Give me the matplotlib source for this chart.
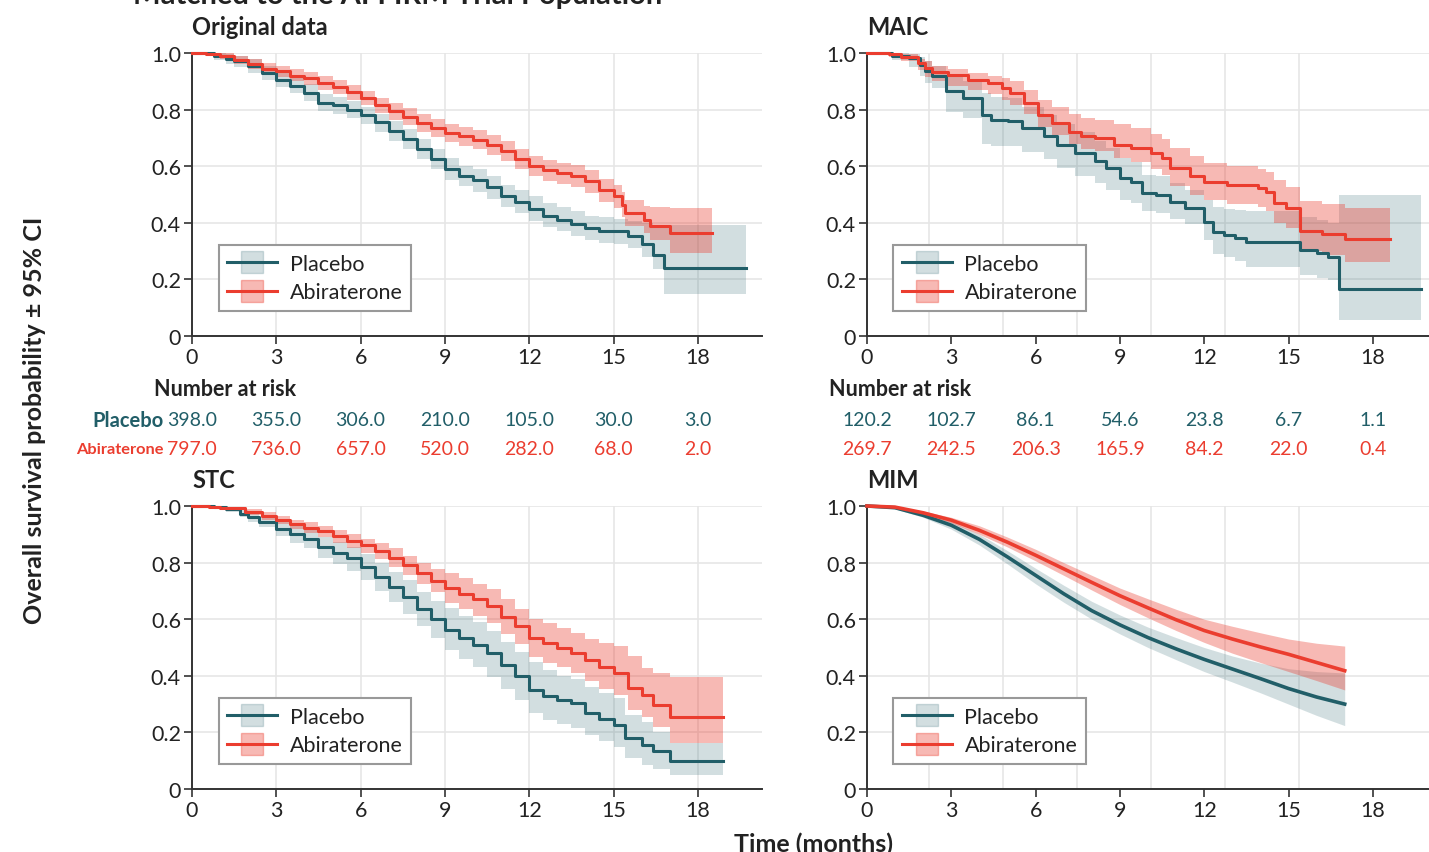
import matplotlib
matplotlib.use("Agg")
import matplotlib.pyplot as plt
import matplotlib.transforms as mtransforms
from matplotlib.lines import Line2D

plt.rcParams['font.family'] = ['Lato', 'DejaVu Sans']

# ---- data ----
# Original data
orig_t_pbo = [0, 0.8, 1.2, 1.5, 2.0, 2.5, 3.0, 3.5, 4.0, 4.5, 5.0, 5.5, 6.0, 6.5, 7.0, 7.5, 8.0, 8.5, 9.0, 9.5,
              10.0, 10.5, 11.0, 11.5, 12.0, 12.5, 13.0, 13.5, 14.0, 14.5, 15.0, 15.5, 16.0, 16.4, 16.8, 19.7]
orig_s_pbo = [1.0, 0.99, 0.98, 0.97, 0.955, 0.93, 0.905, 0.885, 0.86, 0.825, 0.815, 0.80, 0.78, 0.755, 0.725, 0.695,
              0.66, 0.625, 0.59, 0.565, 0.55, 0.525, 0.495, 0.475, 0.45, 0.425, 0.41, 0.395, 0.38, 0.372, 0.37,
              0.352, 0.325, 0.287, 0.24, 0.24]
orig_lo_pbo = [1.0, 0.975, 0.96, 0.95, 0.93, 0.905, 0.88, 0.86, 0.83, 0.795, 0.785, 0.77, 0.75, 0.72, 0.69, 0.66,
               0.625, 0.59, 0.55, 0.53, 0.51, 0.485, 0.455, 0.435, 0.405, 0.385, 0.37, 0.355, 0.34, 0.33, 0.325,
               0.31, 0.28, 0.235, 0.15, 0.15]
orig_hi_pbo = [1.0, 1.0, 0.995, 0.99, 0.978, 0.955, 0.93, 0.91, 0.89, 0.855, 0.845, 0.83, 0.81, 0.785, 0.76, 0.73,
               0.695, 0.66, 0.63, 0.60, 0.59, 0.565, 0.535, 0.515, 0.495, 0.47, 0.455, 0.44, 0.425, 0.42, 0.415,
               0.405, 0.40, 0.39, 0.393, 0.393]
orig_t_abi = [0, 0.5, 1.0, 1.5, 2.0, 2.5, 3.0, 3.5, 4.0, 4.5, 5.0, 5.5, 6.0, 6.5, 7.0, 7.5, 8.0, 8.5, 9.0, 9.5,
              10.0, 10.5, 11.0, 11.5, 12.0, 12.5, 13.0, 13.5, 14.0, 14.5, 15.0, 15.3, 15.4, 16.1, 16.3, 17.0, 18.5]
orig_s_abi = [1.0, 0.998, 0.99, 0.975, 0.96, 0.945, 0.935, 0.92, 0.91, 0.895, 0.88, 0.862, 0.84, 0.815, 0.795,
              0.775, 0.752, 0.735, 0.716, 0.705, 0.693, 0.675, 0.652, 0.625, 0.60, 0.585, 0.575, 0.565, 0.546,
              0.515, 0.493, 0.464, 0.434, 0.41, 0.387, 0.364, 0.364]
orig_lo_abi = [1.0, 0.995, 0.98, 0.962, 0.945, 0.928, 0.915, 0.90, 0.888, 0.87, 0.855, 0.835, 0.815, 0.788, 0.765,
               0.745, 0.72, 0.702, 0.685, 0.672, 0.66, 0.64, 0.617, 0.59, 0.565, 0.548, 0.537, 0.525, 0.505,
               0.475, 0.452, 0.42, 0.39, 0.365, 0.34, 0.293, 0.293]
orig_hi_abi = [1.0, 1.0, 1.0, 0.99, 0.978, 0.963, 0.955, 0.942, 0.932, 0.92, 0.905, 0.888, 0.865, 0.842, 0.825,
               0.805, 0.785, 0.766, 0.748, 0.738, 0.727, 0.71, 0.69, 0.662, 0.635, 0.622, 0.612, 0.605, 0.588,
               0.555, 0.535, 0.51, 0.48, 0.46, 0.455, 0.452, 0.452]

# MAIC
maic_t_pbo = [0, 0.9, 1.5, 1.9, 2.05, 2.3, 2.8, 3.4, 4.1, 4.4, 5.0, 5.5, 6.3, 6.75, 7.4, 8.1, 8.5, 9.0, 9.4, 9.8,
              10.3, 10.8, 11.3, 12.0, 12.3, 12.7, 13.1, 13.5, 15.4, 16.0, 16.4, 16.8, 19.7]
maic_s_pbo = [1.0, 0.99, 0.982, 0.958, 0.935, 0.92, 0.865, 0.84, 0.78, 0.764, 0.758, 0.734, 0.705, 0.675, 0.646,
              0.617, 0.593, 0.557, 0.545, 0.504, 0.50, 0.475, 0.454, 0.404, 0.369, 0.357, 0.345, 0.331, 0.304,
              0.292, 0.28, 0.166, 0.166]
maic_lo_pbo = [1.0, 0.975, 0.95, 0.92, 0.895, 0.875, 0.79, 0.77, 0.68, 0.672, 0.67, 0.65, 0.625, 0.595, 0.565,
               0.54, 0.515, 0.48, 0.47, 0.44, 0.435, 0.415, 0.395, 0.34, 0.29, 0.28, 0.265, 0.245, 0.215, 0.205,
               0.198, 0.055, 0.055]
maic_hi_pbo = [1.0, 1.0, 0.998, 0.985, 0.97, 0.955, 0.925, 0.9, 0.86, 0.845, 0.84, 0.81, 0.78, 0.75, 0.72, 0.69,
               0.665, 0.63, 0.615, 0.57, 0.565, 0.54, 0.515, 0.48, 0.455, 0.45, 0.445, 0.44, 0.42, 0.41, 0.40,
               0.50, 0.50]
maic_t_abi = [0, 0.8, 1.2, 1.8, 2.05, 2.3, 2.9, 3.6, 4.3, 4.8, 5.1, 5.6, 6.1, 6.6, 7.2, 7.6, 8.1, 8.8, 9.4, 10.1,
              10.5, 10.8, 11.5, 12.0, 12.8, 13.9, 14.2, 14.5, 14.9, 15.4, 16.2, 17.0, 18.6]
maic_s_abi = [1.0, 0.995, 0.985, 0.963, 0.946, 0.934, 0.922, 0.905, 0.893, 0.875, 0.858, 0.822, 0.78, 0.752,
              0.722, 0.705, 0.699, 0.675, 0.663, 0.646, 0.628, 0.593, 0.564, 0.545, 0.534, 0.524, 0.51, 0.469,
              0.451, 0.372, 0.36, 0.344, 0.344]
maic_lo_abi = [1.0, 0.985, 0.97, 0.94, 0.915, 0.9, 0.885, 0.87, 0.855, 0.835, 0.815, 0.785, 0.74, 0.71, 0.68,
               0.66, 0.655, 0.63, 0.615, 0.59, 0.57, 0.53, 0.5, 0.48, 0.465, 0.455, 0.44, 0.4, 0.38, 0.3, 0.285,
               0.26, 0.26]
maic_hi_abi = [1.0, 1.0, 0.998, 0.98, 0.97, 0.955, 0.945, 0.93, 0.92, 0.91, 0.9, 0.87, 0.835, 0.81, 0.785, 0.77,
               0.765, 0.75, 0.735, 0.715, 0.695, 0.665, 0.635, 0.61, 0.6, 0.59, 0.58, 0.55, 0.525, 0.476, 0.465,
               0.453, 0.453]

# STC
stc_t_pbo = [0, 0.8, 1.2, 1.7, 2.0, 2.4, 3.0, 3.5, 4.0, 4.5, 5.0, 5.5, 6.0, 6.5, 7.0, 7.5, 8.0, 8.5, 9.0, 9.5,
             10.0, 10.5, 11.0, 11.5, 12.0, 12.5, 13.0, 13.5, 14.0, 14.5, 15.0, 15.4, 16.0, 16.4, 17.0, 18.9]
stc_s_pbo = [1.0, 0.995, 0.99, 0.973, 0.96, 0.944, 0.92, 0.9, 0.885, 0.855, 0.835, 0.815, 0.785, 0.75, 0.715,
             0.68, 0.635, 0.6, 0.562, 0.535, 0.51, 0.48, 0.438, 0.4, 0.35, 0.33, 0.315, 0.303, 0.27, 0.248,
             0.227, 0.18, 0.156, 0.133, 0.10, 0.10]
stc_lo_pbo = [1.0, 0.99, 0.98, 0.96, 0.945, 0.925, 0.895, 0.87, 0.85, 0.818, 0.795, 0.77, 0.738, 0.7, 0.66, 0.62,
              0.575, 0.535, 0.49, 0.46, 0.43, 0.395, 0.355, 0.315, 0.268, 0.245, 0.23, 0.215, 0.19, 0.17, 0.15,
              0.11, 0.085, 0.07, 0.048, 0.048]
stc_hi_pbo = [1.0, 1.0, 0.998, 0.985, 0.975, 0.962, 0.945, 0.928, 0.917, 0.89, 0.873, 0.856, 0.83, 0.8, 0.768,
              0.738, 0.695, 0.665, 0.638, 0.612, 0.59, 0.56, 0.52, 0.485, 0.45, 0.42, 0.4, 0.39, 0.36, 0.34, 0.32,
              0.26, 0.235, 0.2, 0.162, 0.162]
stc_t_abi = [0, 0.6, 1.0, 1.9, 2.5, 3.0, 3.5, 4.0, 4.5, 5.0, 5.5, 6.0, 6.5, 7.0, 7.5, 8.0, 8.5, 9.0, 9.5, 10.0,
             10.5, 11.0, 11.5, 12.0, 12.5, 13.0, 13.5, 14.0, 14.5, 15.0, 15.5, 16.0, 16.4, 17.0, 18.9]
stc_s_abi = [1.0, 0.998, 0.993, 0.979, 0.965, 0.95, 0.935, 0.924, 0.91, 0.893, 0.877, 0.861, 0.842, 0.818, 0.79,
             0.763, 0.735, 0.709, 0.69, 0.67, 0.648, 0.609, 0.575, 0.532, 0.515, 0.5, 0.482, 0.455, 0.43, 0.409,
             0.356, 0.333, 0.297, 0.253, 0.253]
stc_lo_abi = [1.0, 0.995, 0.988, 0.968, 0.952, 0.935, 0.918, 0.905, 0.89, 0.87, 0.853, 0.835, 0.812, 0.786, 0.755,
              0.725, 0.695, 0.656, 0.635, 0.612, 0.588, 0.548, 0.512, 0.465, 0.445, 0.43, 0.41, 0.38, 0.355,
              0.333, 0.28, 0.256, 0.22, 0.162, 0.162]
stc_hi_abi = [1.0, 1.0, 0.998, 0.99, 0.978, 0.965, 0.952, 0.942, 0.93, 0.915, 0.9, 0.885, 0.87, 0.85, 0.825, 0.8,
              0.778, 0.765, 0.745, 0.726, 0.705, 0.67, 0.635, 0.6, 0.585, 0.57, 0.55, 0.53, 0.515, 0.505, 0.47,
              0.427, 0.41, 0.394, 0.394]

# MIM (smooth curves)
mim_t = [0, 1, 2, 3, 4, 5, 6, 7, 8, 9, 10, 11, 12, 13, 14, 15, 16, 17]
mim_s_pbo = [1.0, 0.994, 0.967, 0.932, 0.882, 0.82, 0.755, 0.69, 0.63, 0.58, 0.535, 0.495, 0.458, 0.424, 0.39,
             0.355, 0.325, 0.30]
mim_lo_pbo = [1.0, 0.99, 0.96, 0.918, 0.862, 0.795, 0.725, 0.66, 0.6, 0.548, 0.5, 0.457, 0.415, 0.378, 0.34, 0.3,
              0.26, 0.224]
mim_hi_pbo = [1.0, 0.997, 0.975, 0.945, 0.9, 0.842, 0.78, 0.72, 0.663, 0.615, 0.572, 0.535, 0.5, 0.47, 0.445,
              0.425, 0.415, 0.41]
mim_s_abi = [1.0, 0.996, 0.976, 0.95, 0.914, 0.872, 0.826, 0.778, 0.73, 0.683, 0.64, 0.598, 0.56, 0.53, 0.502,
             0.476, 0.447, 0.418]
mim_lo_abi = [1.0, 0.994, 0.97, 0.94, 0.9, 0.855, 0.806, 0.755, 0.703, 0.652, 0.605, 0.56, 0.518, 0.48, 0.447,
              0.415, 0.383, 0.35]
mim_hi_abi = [1.0, 0.998, 0.982, 0.96, 0.93, 0.89, 0.847, 0.8, 0.755, 0.71, 0.672, 0.635, 0.6, 0.575, 0.552,
              0.53, 0.515, 0.505]

# number at risk
risk_times = [0, 3, 6, 9, 12, 15, 18]
orig_risk_pbo = [398.0, 355.0, 306.0, 210.0, 105.0, 30.0, 3.0]
orig_risk_abi = [797.0, 736.0, 657.0, 520.0, 282.0, 68.0, 2.0]
maic_risk_pbo = [120.2, 102.7, 86.1, 54.6, 23.8, 6.7, 1.1]
maic_risk_abi = [269.7, 242.5, 206.3, 165.9, 84.2, 22.0, 0.4]

# gridlines used in the right-hand panels (not on the tick positions)
right_grid_x = [2.21, 4.84, 7.47, 10.1, 12.74, 15.37, 18.0]

teal = '#215e68'
red = '#eb3d2f'
dark = '#222222'

W, H = 1429, 853
fig = plt.figure(figsize=(W / 100, H / 100), dpi=100)


def make_ax(x0, x1, ytop, ybot):
    return fig.add_axes([x0 / W, 1 - ybot / H, (x1 - x0) / W, (ybot - ytop) / H])


def style_ax(ax, xmax, right=False):
    ax.set_xlim(0, xmax)
    ax.set_ylim(0, 1.0)
    for s in ['top', 'right']:
        ax.spines[s].set_visible(False)
    for s in ['left', 'bottom']:
        ax.spines[s].set_color('#333333')
        ax.spines[s].set_linewidth(1.4)
    ax.set_xticks(risk_times)
    ax.set_xticklabels([str(v) for v in risk_times])
    ax.set_yticks([0, 0.2, 0.4, 0.6, 0.8, 1.0])
    ax.set_yticklabels(['0', '0.2', '0.4', '0.6', '0.8', '1.0'])
    ax.tick_params(axis='both', labelsize=15.5, colors='#333333', labelcolor=dark, length=6, width=1.2, pad=2)
    ax.yaxis.grid(True, color='#e6e6e6', lw=1.2)
    if right:
        ax.set_xticks(right_grid_x, minor=True)
        ax.tick_params(axis='x', which='minor', length=0)
        ax.xaxis.grid(True, which='minor', color='#e6e6e6', lw=1.2)
    else:
        ax.xaxis.grid(True, color='#e6e6e6', lw=1.2)
    ax.set_axisbelow(True)


def km(ax, t, s, lo, hi, color, alpha):
    ax.fill_between(t, lo, hi, step='post', color=color, alpha=alpha, lw=0)
    return ax.step(t, s, where='post', color=color, lw=2.2, clip_on=False, zorder=3)


def smooth(ax, t, s, lo, hi, color, alpha):
    ax.fill_between(t, lo, hi, color=color, alpha=alpha, lw=0)
    return ax.plot(t, s, color=color, lw=2.6, clip_on=False, zorder=3)


def add_legend(ax):
    h1 = (Line2D([], [], marker='s', ms=16, color=teal, alpha=0.2, ls='none'),
          Line2D([], [], color=teal, lw=2.2))
    h2 = (Line2D([], [], marker='s', ms=16, color=red, alpha=0.36, ls='none'),
          Line2D([], [], color=red, lw=2.2))
    leg = ax.legend([h1, h2], ['Placebo', 'Abiraterone'], loc='lower left',
                    bbox_to_anchor=(0.047, 0.088), borderaxespad=0, fontsize=15.5,
                    frameon=True, fancybox=False, framealpha=1, handlelength=2.3,
                    handletextpad=0.6, labelspacing=0.4, borderpad=0.4)
    leg.get_frame().set_edgecolor('#999999')
    leg.get_frame().set_linewidth(1.5)
    for txt in leg.get_texts():
        txt.set_color(dark)


ax1 = make_ax(192, 762, 54, 337)
ax2 = make_ax(867, 1429, 54, 337)
ax3 = make_ax(192, 762, 507, 790)
ax4 = make_ax(867, 1429, 507, 790)

style_ax(ax1, 570 / 28.1)
style_ax(ax2, 562 / 28.1, right=True)
style_ax(ax3, 570 / 28.1)
style_ax(ax4, 562 / 28.1, right=True)

km(ax1, orig_t_pbo, orig_s_pbo, orig_lo_pbo, orig_hi_pbo, teal, 0.2)
km(ax1, orig_t_abi, orig_s_abi, orig_lo_abi, orig_hi_abi, red, 0.36)
km(ax2, maic_t_pbo, maic_s_pbo, maic_lo_pbo, maic_hi_pbo, teal, 0.2)
km(ax2, maic_t_abi, maic_s_abi, maic_lo_abi, maic_hi_abi, red, 0.36)
km(ax3, stc_t_pbo, stc_s_pbo, stc_lo_pbo, stc_hi_pbo, teal, 0.2)
km(ax3, stc_t_abi, stc_s_abi, stc_lo_abi, stc_hi_abi, red, 0.36)
smooth(ax4, mim_t, mim_s_pbo, mim_lo_pbo, mim_hi_pbo, teal, 0.2)
smooth(ax4, mim_t, mim_s_abi, mim_lo_abi, mim_hi_abi, red, 0.36)

for ax, title in zip([ax1, ax2, ax3, ax4], ['Original data', 'MAIC', 'STC', 'MIM']):
    ax.text(0, 1.0 + 19 / 283, title, transform=ax.transAxes, fontsize=17, fontweight='bold',
            color=dark, ha='left', va='baseline')
    add_legend(ax)

# number at risk tables
for ax, rp, ra, labels in [(ax1, orig_risk_pbo, orig_risk_abi, True),
                           (ax2, maic_risk_pbo, maic_risk_abi, False)]:
    tr = mtransforms.blended_transform_factory(ax.transData, fig.transFigure)
    x_head = -38 / 28.1
    ax.text(x_head, 1 - 390 / H, 'Number at risk', transform=tr, fontsize=15.5, fontweight='bold',
            color=dark, ha='left', va='center')
    for xv, vp, va_ in zip(risk_times, rp, ra):
        ax.text(xv, 1 - 421 / H, f'{vp:.1f}', transform=tr, fontsize=14, color=teal, ha='center', va='center')
        ax.text(xv, 1 - 450 / H, f'{va_:.1f}', transform=tr, fontsize=14, color=red, ha='center', va='center')
    if labels:
        ax.text(-1.0, 1 - 421 / H, 'Placebo', transform=tr, fontsize=14.5, fontweight='bold',
                color=teal, ha='right', va='center')
        ax.text(-1.0, 1 - 450 / H, 'Abiraterone', transform=tr, fontsize=11.8, fontweight='bold',
                color=red, ha='right', va='center')

# overall labels
fig.text(133 / W, 1 - 4 / H, 'Matched to the AFFIRM Trial Population', fontsize=21, fontweight='bold',
         color=dark, ha='left', va='baseline')
fig.text(35 / W, 1 - 420 / H, 'Overall survival probability \u00b1 95% CI', rotation=90, fontsize=18,
         fontweight='bold', color=dark, ha='center', va='center')
fig.text(813 / W, 1 - 833 / H, 'Time (months)', fontsize=18, fontweight='bold', color=dark,
         ha='center', va='top')

fig.savefig('out.png', dpi=100, facecolor='white')
